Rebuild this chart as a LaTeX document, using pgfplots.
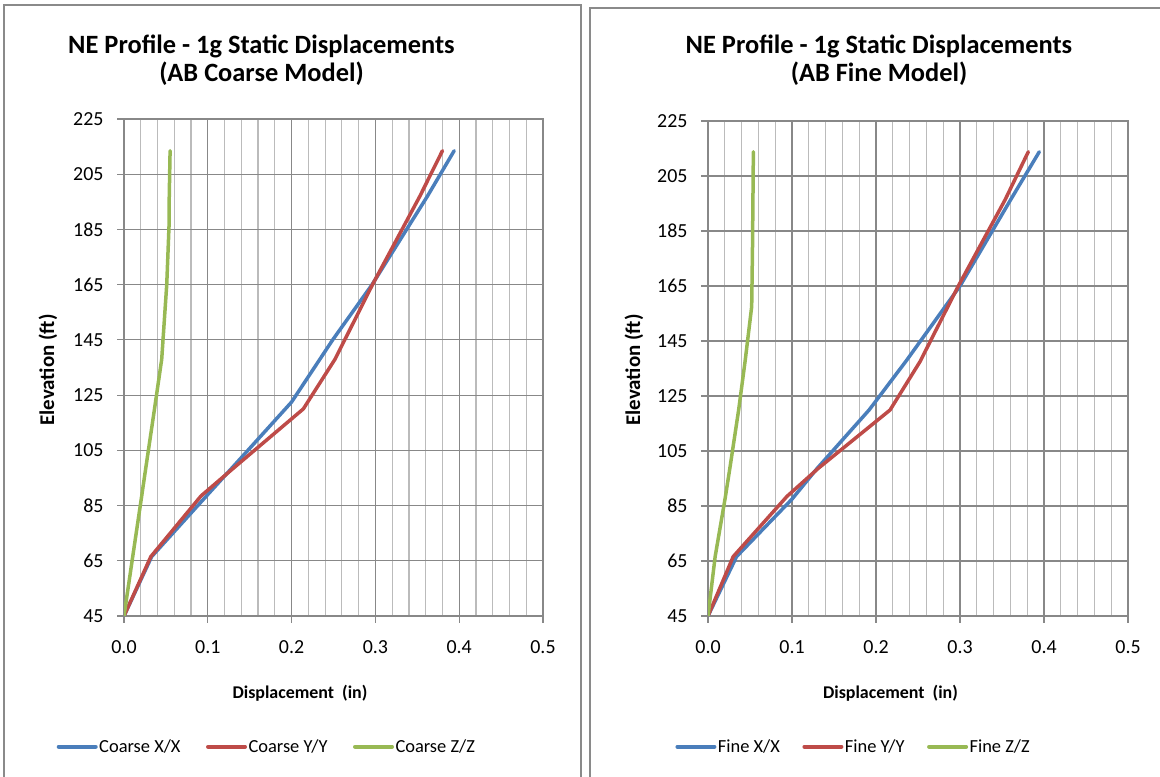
\documentclass[border=0pt]{standalone}
\usepackage{fontspec}
\setmainfont{Carlito}
\usepackage{pgfplots}
\pgfplotsset{compat=1.18}
\definecolor{sblue}{HTML}{4A7EBB}
\definecolor{sred}{HTML}{BE4B48}
\definecolor{sgreen}{HTML}{98B954}
\definecolor{gmaj}{HTML}{888888}
\definecolor{gmin}{HTML}{BBBBBB}
\definecolor{boxc}{HTML}{8A8A8A}

\pgfplotsset{
 panel/.style={
  scale only axis, xmin=0, xmax=0.5, ymin=45, ymax=225,
  xtick={0,0.1,0.2,0.3,0.4,0.5}, ytick={45,65,...,225},
  minor x tick num=4,
  grid=both,
  major grid style={draw=gmaj, line width=1.2bp},
  minor grid style={draw=gmin, line width=1.2bp},
  axis line style={draw=gmaj, line width=1.2bp},
  tick pos=left,
  tick align=outside, major tick length=7bp, minor tick length=0pt,
  every tick/.style={draw=gmaj, line width=1.2bp},
  tick label style={font=\fontsize{20}{20}\selectfont, text=black},
  /pgf/number format/assume math mode=true,
  xticklabel style={yshift=-14bp, /pgf/number format/.cd, fixed, fixed zerofill, precision=1},
  yticklabel style={xshift=-10bp, /pgf/number format/.cd, fixed, precision=0},
  legend columns=3,
  legend style={draw=none, fill=none, inner sep=0pt, font=\fontsize{18.5}{18.5}\selectfont, nodes={inner sep=1.5bp}},
  legend image code/.code={\draw[#1, line width=4bp, line cap=round] (0bp,0bp) -- (37bp,0bp);},
  no markers,
  every axis plot/.append style={line width=3.5bp, line join=round, line cap=round},
 }
}

\begin{document}
\begin{tikzpicture}[x=1bp,y=1bp]
\useasboundingbox (0,0) rectangle (1160,777);
\draw[boxc, line width=1.5bp] (4,-20) -- (4,772) -- (581,772) -- (581,-20);
\draw[boxc, line width=1.5bp] (590,-20) -- (590,769) -- (1180,769);

% ---------- Left panel ----------
\begin{axis}[panel, at={(124bp,161bp)}, anchor=south west, width=419bp, height=497bp,
  legend style={at={(-0.161,-0.263)}, anchor=west, /tikz/every even column/.append style={column sep=24bp}}]
\addplot[sblue] coordinates {(0,45) (0.033,66.5) (0.097,88) (0.13,99) (0.2,122.5) (0.249,145) (0.296,165) (0.362,197) (0.394,213.5)};
\addlegendentry{Coarse X/X}
\addplot[sred] coordinates {(0,45) (0.032,66.5) (0.092,88.5) (0.1285,98) (0.214,120) (0.2518,138) (0.2965,165) (0.353,197) (0.380,213.5)};
\addlegendentry{Coarse Y/Y}
\addplot[sgreen] coordinates {(0,45) (0.0104,66.5) (0.0209,88) (0.0257,98) (0.0364,120) (0.045,138) (0.051,165) (0.0537,186) (0.054,197) (0.055,213.5)};
\addlegendentry{Coarse Z/Z}
\end{axis}

% ---------- Right panel ----------
\begin{axis}[panel, at={(708bp,161bp)}, anchor=south west, width=420bp, height=495bp,
  legend style={at={(-0.078,-0.264)}, anchor=west, /tikz/every even column/.append style={column sep=21bp}}]
\addplot[sblue] coordinates {(0,45) (0.034,66.6) (0.1,87.5) (0.13,98.7) (0.192,120) (0.2365,138) (0.300,165) (0.3615,197) (0.3944,213.8)};
\addlegendentry{Fine X/X}
\addplot[sred] coordinates {(0,45) (0.030,66.6) (0.094,88.5) (0.1313,98.7) (0.2167,119.9) (0.2524,137.5) (0.298,165) (0.3536,196.3) (0.3813,213.8)};
\addlegendentry{Fine Y/Y}
\addplot[sgreen] coordinates {(0,45) (0.0085,66.6) (0.0205,88) (0.026,98.7) (0.0365,120) (0.0443,138) (0.052,157.5) (0.053,180) (0.0535,197) (0.054,213.8)};
\addlegendentry{Fine Z/Z}
\end{axis}

% ---------- Titles and axis labels ----------
\begin{scope}[every node/.style={font=\bfseries\fontsize{26.5}{26.5}\selectfont, anchor=base}]
\node at (261.5,723.7) {NE Profile - 1g Static Displacements};
\node at (261.5,695) {(AB Coarse Model)};
\node at (879,723.7) {NE Profile - 1g Static Displacements};
\node at (879,695) {(AB Fine Model)};
\end{scope}
\begin{scope}[every node/.style={font=\bfseries\fontsize{18}{18}\selectfont, anchor=base}]
\node at (300,78.7) {Displacement\ \ (in)};
\node at (890.5,78.7) {Displacement\ \ (in)};
\end{scope}
\begin{scope}[every node/.style={font=\bfseries\fontsize{21}{21}\selectfont, anchor=base}]
\node[rotate=90] at (54,407) {Elevation (ft)};
\node[rotate=90] at (640,407) {Elevation (ft)};
\end{scope}
\end{tikzpicture}
\end{document}
